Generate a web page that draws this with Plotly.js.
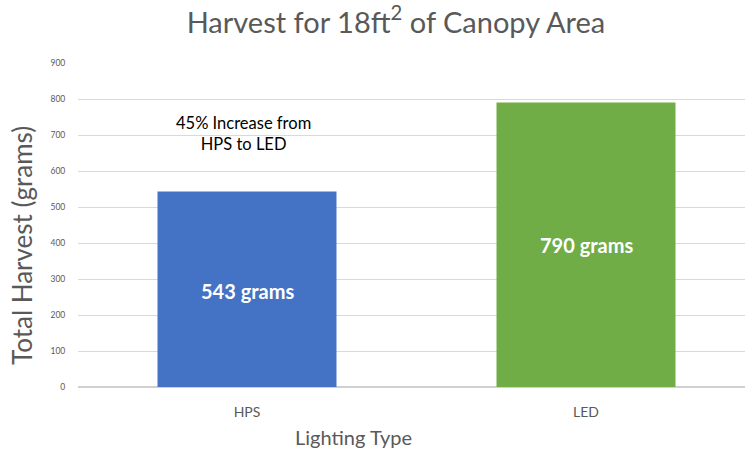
<!DOCTYPE html>
<html>
<head>
<meta charset="utf-8">
<script src="https://cdn.plot.ly/plotly-3.0.1.min.js"></script>
<style>html,body{margin:0;padding:0;background:#fff;}#chart{width:747px;height:450px;}</style>
</head>
<body>
<div id="chart"></div>
<script>
var categories = ["HPS", "LED"];
var harvestGrams = [543, 790];
var barColors = ["#4472c4", "#70ad47"];
var barLabels = ["543 grams", "790 grams"];
var yTicks = [0, 100, 200, 300, 400, 500, 600, 700, 800, 900];
var noteText = "45% Increase from<br>HPS to LED";

var font = "Lato, 'Open Sans', sans-serif";
var trace = {
  type: "bar",
  x: [0, 1],
  y: harvestGrams,
  marker: {color: barColors},
  hoverinfo: "none"
};
var annotations = [
  {x: 0, y: harvestGrams[0] * 0.49, text: "<b>" + barLabels[0] + "</b>", showarrow: false,
   font: {family: font, size: 20, color: "#ffffff"}},
  {x: 1, y: harvestGrams[1] * 0.5, text: "<b>" + barLabels[1] + "</b>", showarrow: false,
   font: {family: font, size: 20, color: "#ffffff"}},
  {x: -0.01, y: 705, text: noteText, showarrow: false,
   font: {family: font, size: 16.5, color: "#000000"}},
  {xref: "paper", yref: "paper", x: (353 - 78) / 667, y: (450 - 437 - 63) / 324, xanchor: "center", yanchor: "middle",
   text: "Lighting Type", showarrow: false, font: {family: font, size: 20, color: "#595959"}},
  {xref: "paper", yref: "paper", x: (22 - 78) / 667, y: (387 - 246) / 324, xanchor: "center", yanchor: "middle",
   text: "Total Harvest (grams)", textangle: -90, showarrow: false, font: {family: font, size: 26, color: "#595959"}}
];
var layout = {
  width: 747, height: 450,
  margin: {l: 78, r: 2, t: 63, b: 63},
  paper_bgcolor: "#ffffff", plot_bgcolor: "#ffffff",
  title: {text: "Harvest for 18ft<sup>2</sup> of Canopy Area", x: 0.53, xanchor: "center", y: 0.95, yanchor: "middle",
          font: {family: font, size: 29, color: "#595959"}},
  bargap: 0.472,
  showlegend: false,
  xaxis: {
    range: [-0.4985, 1.469],
    tickvals: [0, 1], ticktext: categories,
    tickfont: {family: font, size: 14, color: "#595959"},
    showline: false, ticks: "outside", ticklen: 12, tickcolor: "rgba(0,0,0,0)", showgrid: false, zeroline: false
  },
  yaxis: {
    range: [0, 900], tickvals: yTicks, ticktext: yTicks.map(String),
    tickfont: {family: font, size: 8.5, color: "#595959"},
    gridcolor: "#d9d9d9", gridwidth: 1, zeroline: true, zerolinecolor: "#d0d0d0", zerolinewidth: 1.5,
    ticks: "outside", ticklen: 10, tickcolor: "rgba(0,0,0,0)"
  },
  annotations: annotations
};
Plotly.newPlot("chart", [trace], layout, {displayModeBar: false, staticPlot: true});
</script>
</body>
</html>
